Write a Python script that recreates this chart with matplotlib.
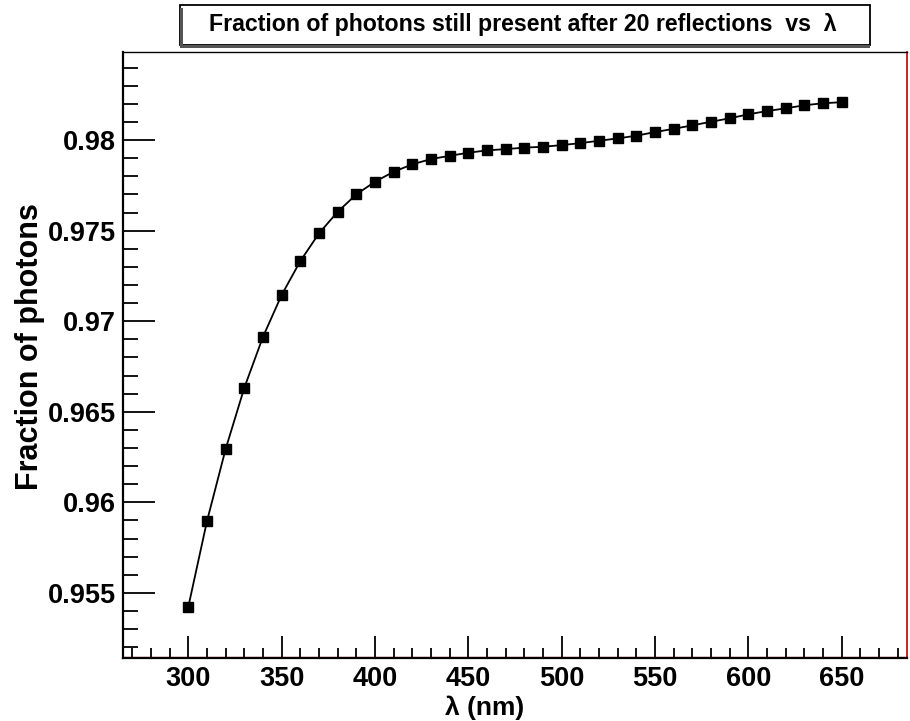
import numpy as np
import matplotlib
matplotlib.use("Agg")
import matplotlib.pyplot as plt
from matplotlib.ticker import MultipleLocator, FixedLocator
from matplotlib.patches import Rectangle

plt.rcParams['font.family'] = ['Liberation Sans', 'DejaVu Sans']

# wavelength (nm) and surviving fraction after 20 reflections
wavelength = list(range(300, 660, 10))
fraction = [0.95424, 0.95897, 0.96295, 0.96633, 0.96914, 0.97145, 0.97332,
            0.97485, 0.97604, 0.97700, 0.97770, 0.97825, 0.97866, 0.97895,
            0.97913, 0.97930, 0.97943, 0.97950, 0.97958, 0.97963, 0.97972,
            0.97983, 0.97996, 0.98009, 0.98024, 0.98044, 0.98062, 0.98081,
            0.98101, 0.98120, 0.98142, 0.98160, 0.98175, 0.98192, 0.98203,
            0.98209]

xticks = [300, 350, 400, 450, 500, 550, 600, 650]
yticks = [0.955, 0.96, 0.965, 0.97, 0.975, 0.98]
ytick_labels = ["0.955", "0.96", "0.965", "0.97", "0.975", "0.98"]

fig = plt.figure(figsize=(9.1, 7.21), dpi=100)
ax = fig.add_axes([123 / 910, 1 - 658 / 721, (907 - 123) / 910, (658 - 52) / 721])

ax.plot(wavelength, fraction, color='black', lw=1.3, marker='s', ms=7,
        mfc='black', mec='black')

ax.set_xlim(265, 685)
ax.set_ylim(0.95141, 0.98486)

ax.xaxis.set_major_locator(FixedLocator(xticks))
ax.xaxis.set_minor_locator(MultipleLocator(10))
ax.yaxis.set_major_locator(FixedLocator(yticks))
ax.yaxis.set_minor_locator(MultipleLocator(0.001))
ax.set_yticklabels(ytick_labels)

ax.tick_params(which='both', direction='in', top=False, right=False,
               width=1.3, labelsize=19.5)
ax.tick_params(axis='x', which='major', length=16, pad=6)
ax.tick_params(axis='x', which='minor', length=7)
ax.tick_params(axis='y', which='major', length=23, pad=5)
ax.tick_params(axis='y', which='minor', length=11)
for lab in ax.get_xticklabels() + ax.get_yticklabels():
    lab.set_fontweight('bold')

for side in ['left', 'bottom']:
    ax.spines[side].set_linewidth(1.6)
    ax.spines[side].set_color('black')
ax.spines['right'].set_color('#c00000')
ax.spines['right'].set_linewidth(1.2)
ax.spines['top'].set_linewidth(1.0)
ax.axhline(0.95141 + 0.00004, color='#d04040', lw=1.0, zorder=1)

fig.text(485 / 910, 1 - 708 / 721, "λ (nm)", ha='center', va='center',
         fontsize=19, fontweight='bold')
fig.text(30 / 910, 1 - 347 / 721, "Fraction of photons", ha='center',
         va='center', rotation=90, fontsize=22, fontweight='bold')

# title box
fig.patches.append(Rectangle((180 / 910, 1 - 45 / 721), (870 - 180) / 910,
                             40 / 721, transform=fig.transFigure,
                             facecolor='white', edgecolor='black', lw=1.3))
fig.patches.append(Rectangle((180 / 910, 1 - 48 / 721), (870 - 180) / 910,
                             3 / 721, transform=fig.transFigure,
                             facecolor='#555555', edgecolor='none'))
fig.patches.append(Rectangle((180 / 910, 1 - 48 / 721), 3 / 910,
                             40 / 721, transform=fig.transFigure,
                             facecolor='#555555', edgecolor='none'))
fig.text(523 / 910, 1 - 25 / 721,
         "Fraction of photons still present after 20 reflections  vs  λ",
         ha='center', va='center', fontsize=16.7, fontweight='bold')

fig.savefig("out.png", dpi=100, facecolor='white')
